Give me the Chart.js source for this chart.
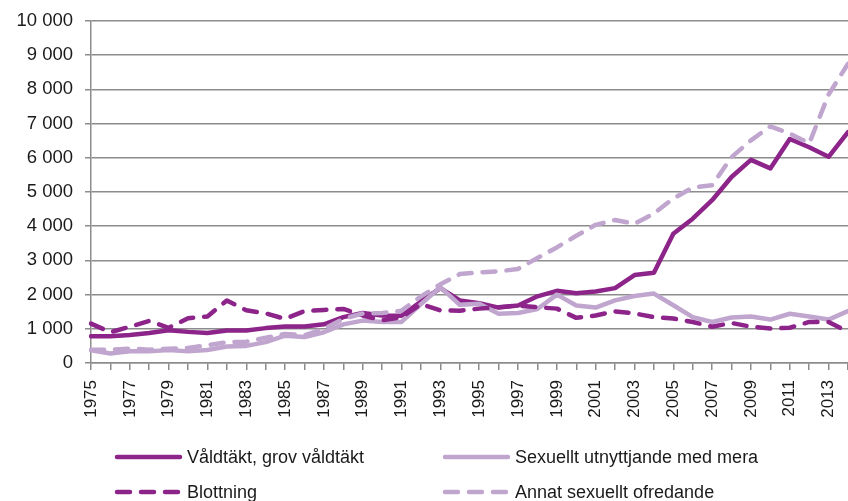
<!DOCTYPE html>
<html>
<head>
<meta charset="utf-8">
<script src="https://cdn.jsdelivr.net/npm/chart.js@4"></script>
<style>
  body { margin: 0; background: #fff; }
</style>
</head>
<body>
<canvas id="myChart" width="848" height="501"></canvas>
<script>
// years 1975-2014
const years = [];
for (let y = 1975; y <= 2014; y++) years.push(String(y));

// series
const valdtakt = [780, 780, 820, 880, 960, 910, 880, 950, 950, 1020,
  1070, 1070, 1130, 1340, 1460, 1390, 1380, 1800, 2190, 1830,
  1750, 1620, 1680, 1950, 2110, 2040, 2090, 2190, 2570, 2640,
  3780, 4220, 4760, 5440, 5940, 5690, 6550, 6310, 6030, 6750];

const utnyttjande = [370, 280, 340, 340, 380, 340, 380, 480, 500, 610,
  800, 760, 900, 1130, 1240, 1200, 1200, 1720, 2220, 1700,
  1730, 1440, 1460, 1580, 2000, 1680, 1620, 1830, 1960, 2030,
  1690, 1340, 1200, 1330, 1360, 1270, 1440, 1360, 1270, 1520];

const blottning = [1150, 900, 1060, 1230, 1030, 1310, 1360, 1830, 1540, 1450,
  1290, 1520, 1550, 1580, 1390, 1250, 1340, 1720, 1540, 1530,
  1590, 1630, 1680, 1630, 1590, 1320, 1390, 1510, 1450, 1340,
  1300, 1200, 1060, 1170, 1060, 1010, 1030, 1200, 1200, 910];

const ofredande = [390, 390, 420, 390, 420, 440, 520, 610, 620, 740,
  850, 810, 1000, 1290, 1450, 1460, 1530, 1950, 2300, 2600,
  2650, 2680, 2750, 3070, 3380, 3720, 4040, 4180, 4070, 4370,
  4810, 5130, 5200, 6020, 6510, 6920, 6710, 6420, 7850, 8750];

const seriesNames = ['Våldtäkt, grov våldtäkt', 'Sexuellt utnyttjande med mera',
  'Blottning', 'Annat sexuellt ofredande'];

const dark = 'rgb(140, 36, 138)';
const light = 'rgb(192, 166, 206)';
const gridColor = '#8c8c8c';
const fontFamily = "'Liberation Sans', Arial, sans-serif";

// legend drawn on the canvas, two columns
const legendPlugin = {
  id: 'twoColLegend',
  afterDraw(chart) {
    const ctx = chart.ctx;
    const cols = [115, 443];
    const rows = [457, 492];
    chart.data.datasets.forEach((ds, i) => {
      const x = cols[i % 2];
      const y = rows[Math.floor(i / 2)];
      ctx.save();
      ctx.strokeStyle = ds.borderColor;
      ctx.lineWidth = ds.borderWidth;
      ctx.lineCap = 'round';
      ctx.setLineDash(ds.borderDash || []);
      ctx.beginPath();
      ctx.moveTo(x + 2, y);
      ctx.lineTo(x + 65, y);
      ctx.stroke();
      ctx.setLineDash([]);
      ctx.fillStyle = '#1a1a1a';
      ctx.font = '18px ' + fontFamily;
      ctx.textBaseline = 'middle';
      ctx.fillText(ds.label, x + 72, y + 1);
      ctx.restore();
    });
  },
};

const ctx = document.getElementById('myChart').getContext('2d');

const data = {
  labels: years,
  datasets: [
    { label: seriesNames[0], data: valdtakt, borderColor: dark, borderWidth: 4.5, order: 4 },
    { label: seriesNames[1], data: utnyttjande, borderColor: light, borderWidth: 4.5, order: 3 },
    { label: seriesNames[2], data: blottning, borderColor: dark, borderWidth: 4.5, borderDash: [13, 11], order: 2 },
    { label: seriesNames[3], data: ofredande, borderColor: light, borderWidth: 4.5, borderDash: [13, 11], order: 1 },
  ],
};
data.datasets.forEach((d) => {
  d.pointRadius = 0;
  d.tension = 0;
  d.fill = false;
  d.borderCapStyle = 'round';
  d.borderJoinStyle = 'round';
});

const options = {
  responsive: false,
  animation: false,
  layout: { padding: { top: 21, right: 0, bottom: 0, left: 0 } },
  plugins: {
    legend: { display: false },
    tooltip: { enabled: false },
  },
  scales: {
    x: {
      offset: false,
      grid: { drawOnChartArea: false, drawTicks: true, tickLength: 7, color: gridColor, lineWidth: 1.5 },
      border: { color: gridColor, width: 1.5 },
      ticks: {
        autoSkip: false,
        maxRotation: 90,
        minRotation: 90,
        padding: 10,
        color: '#1a1a1a',
        font: { family: fontFamily, size: 17 },
        callback: function (val, i) {
          return i % 2 === 0 ? years[i] : '';
        },
      },
      afterFit: function (scale) {
        scale.height = 138;
        scale.paddingLeft = 0;
        scale.paddingRight = 0;
      },
    },
    y: {
      min: 0,
      max: 10000,
      grid: { color: gridColor, lineWidth: 1.5, tickLength: 6 },
      border: { color: gridColor, width: 1.5 },
      ticks: {
        stepSize: 1000,
        padding: 12,
        color: '#1a1a1a',
        font: { family: fontFamily, size: 18.5 },
        callback: function (v) {
          return String(v).replace(/\B(?=(\d{3})+(?!\d))/g, ' ');
        },
      },
      afterFit: function (scale) {
        scale.width = 91;
        scale.paddingTop = 0;
        scale.paddingBottom = 0;
      },
    },
  },
};

const myChart = new Chart(ctx, {
  type: 'line',
  data,
  options,
  plugins: [legendPlugin],
});
</script>
</body>
</html>
